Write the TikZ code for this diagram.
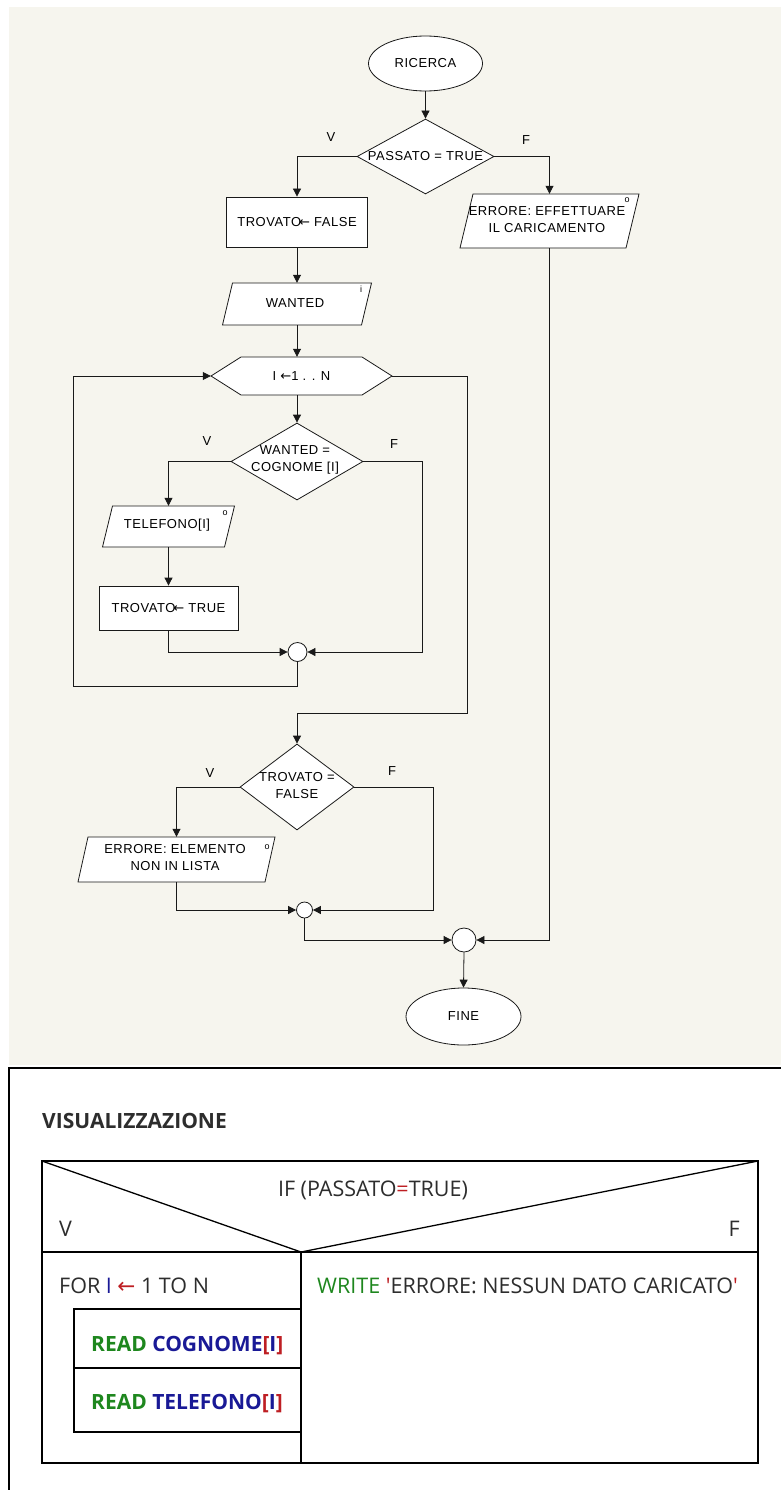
\documentclass[tikz,border=0pt]{standalone}
\usepackage{fontspec}
\setmainfont{Liberation Sans}[LetterSpace=4]
\newfontfamily\nsfont{Open Sans}
\newfontfamily\dvfont{DejaVu Sans}
\usetikzlibrary{shapes.geometric,arrows.meta}
\definecolor{bgc}{RGB}{246,245,238}
\definecolor{lnc}{RGB}{25,25,25}
\definecolor{ngreen}{RGB}{30,135,30}
\definecolor{nblue}{RGB}{25,25,150}
\definecolor{nred}{RGB}{190,30,35}
\definecolor{ntext}{RGB}{45,45,45}
\tikzset{
  fctext/.style={font=\fontsize{13}{17}\selectfont, text=black, inner sep=0pt, align=center},
  tinymk/.style={font=\fontsize{9}{9}\selectfont, text=black, inner sep=0pt},
  term/.style={ellipse, draw=lnc, fill=white, line width=0.8pt, inner sep=0pt, fctext},
  proc/.style={rectangle, draw=lnc, fill=white, line width=0.8pt, inner sep=0pt, fctext},
  iobox/.style={rectangle, draw=none, inner sep=0pt, fctext},
  dec/.style={diamond, draw=lnc, fill=white, line width=0.8pt, inner sep=0pt},
  jn/.style={circle, draw=lnc, fill=white, line width=0.8pt, inner sep=0pt},
  ln/.style={line width=0.8pt, draw=lnc},
  arr/.style={-{Triangle[length=8pt,width=8pt]}},
  nsreg/.style={font=\nsfont\fontsize{21.5}{21.5}\selectfont, text=ntext, inner sep=0pt},
  nsbold/.style={font=\nsfont\bfseries\fontsize{21}{21}\selectfont, text=ntext, inner sep=0pt},
  nsline/.style={line width=1.3pt, draw=black}
}
% parallelogram: centre x, centre y, width, height, slant
\newcommand\mypgram[5]{%
  \draw[ln, fill=white] ({#1-#3/2},{#2+#4/2}) -- ({#1-#3/2+#5},{#2-#4/2}) -- ({#1+#3/2},{#2-#4/2}) -- ({#1+#3/2-#5},{#2+#4/2}) -- cycle;}
\newcommand\fcarrow{{\dvfont\fontsize{13}{13}\selectfont ←}}
\begin{document}
\begin{tikzpicture}[x=1pt,y=-1pt]
\useasboundingbox (0,0) rectangle (781,1490);
\fill[white] (0,0) rectangle (781,1490);
\fill[bgc] (9,7) rectangle (781,1065);

% ---------- flowchart shapes ----------
\node[term, minimum width=114pt, minimum height=55pt] (ric) at (425.5,63.5) {RICERCA};

\node[dec, minimum width=137pt, minimum height=75pt] (d1) at (425.5,156.5) {};
\node[fctext] (d1t) at (d1.center) {PASSATO = TRUE};
\node[fctext] (v1) at (331,137) {V};
\node[fctext] (f1) at (526,140) {F};

\node[proc, minimum width=141pt, minimum height=50pt] (tf) at (297,222) {TROVATO\kern-2pt\fcarrow\ FALSE};

\mypgram{549.5}{221}{179}{54}{13}
\node[iobox, minimum width=179pt, minimum height=54pt] (err1) at (549.5,221) {};
\node[fctext] (err1t) at (547,219.5) {ERRORE: EFFETTUARE\\IL CARICAMENTO};
\node[tinymk] (err1m) at (627,200) {o};

\mypgram{297}{304}{149}{42}{10}
\node[iobox, minimum width=149pt, minimum height=42pt] (wanted) at (297,304) {};
\node[fctext] (wantedt) at (295,303) {WANTED};
\node[tinymk] (wantedm) at (361,289) {i};

\draw[ln, fill=white] (211,376) -- (241,357) -- (362,357) -- (392,376) -- (362,395) -- (241,395) -- cycle;
\node[fctext, minimum width=181pt, minimum height=38pt] (hex) at (301.5,376) {I \fcarrow1 . . N};

\node[dec, minimum width=132pt, minimum height=77pt] (d2) at (297,461.5) {};
\node[fctext] (d2t) at (295,459.5) {WANTED =\\COGNOME [I]};
\node[fctext] (v2) at (207,441) {V};
\node[fctext] (f2) at (394,444) {F};

\mypgram{168.5}{526.5}{132}{41}{10}
\node[iobox, minimum width=132pt, minimum height=41pt] (tel) at (168.5,526.5) {};
\node[fctext] (telt) at (167,525) {TELEFONO[I]};
\node[tinymk] (telm) at (225,513) {o};

\node[proc, minimum width=139pt, minimum height=44pt] (tt) at (168.5,608) {TROVATO\kern-2pt\fcarrow\ TRUE};

\node[jn, minimum size=19pt] (c1) at (297.5,652) {};

\node[dec, minimum width=114pt, minimum height=86pt] (d3) at (297,787) {};
\node[fctext] (d3t) at (297,785.5) {TROVATO =\\FALSE};
\node[fctext] (v3) at (210,773) {V};
\node[fctext] (f3) at (392,771) {F};

\mypgram{176.5}{859.5}{197}{45}{10}
\node[iobox, minimum width=197pt, minimum height=45pt] (err2) at (176.5,859.5) {};
\node[fctext] (err2t) at (175,857.5) {ERRORE: ELEMENTO\\NON IN LISTA};
\node[tinymk] (err2m) at (267,847) {o};

\node[jn, minimum size=16pt] (c2) at (304.5,910) {};
\node[jn, minimum size=24pt] (c3) at (464,940) {};

\node[term, minimum width=115pt, minimum height=57pt] (fine) at (463.5,1016.5) {FINE};

% ---------- connectors ----------
\coordinate (k1) at (422,652);
\coordinate (k2) at (73,686);
\coordinate (k3) at (467,713);
\coordinate (k4) at (433,910);

\draw[ln,arr] (ric.south) -- (d1.north);
\draw[ln,arr] (d1.west) -| (tf.north);
\draw[ln,arr] (d1.east) -| (err1.north);
\draw[ln,arr] (tf.south) -- (wanted.north);
\draw[ln,arr] (wanted.south) -- (wanted.south |- hex.north);
\draw[ln,arr] (d2.north |- hex.south) -- (d2.north);
\draw[ln,arr] (d2.west) -| (tel.north);
\draw[ln,arr] (tel.south) -- (tt.north);
\draw[ln,arr] (tt.south) |- (c1.west);
\draw[ln,arr] (d2.east) -| (k1) -- (c1.east);
\draw[ln,arr] (c1.south) |- (k2) |- (hex.west);
\draw[ln,arr] (hex.east) -| (k3) -| (d3.north);
\draw[ln,arr] (d3.west) -| (err2.north);
\draw[ln,arr] (err2.south) |- (c2.west);
\draw[ln,arr] (d3.east) -| (k4) -- (c2.east);
\draw[ln,arr] (c2.south) |- (c3.west);
\draw[ln,arr] (err1.south) |- (c3.east);
\draw[ln,arr] (c3.south) -- (fine.north);

% ---------- bottom frame ----------
\draw[line width=1.5pt] (9,1490) -- (9,1068) -- (781,1068);

\node[nsbold, anchor=base west] (vis) at (42,1128) {VISUALIZZAZIONE};

\draw[nsline] (42,1161) rectangle (758,1463);
\draw[nsline] (42,1252) -- (758,1252);
\draw[nsline] (42,1161) -- (301,1252) -- (758,1161);
\draw[nsline] (301,1252) -- (301,1463);
\draw[nsline] (301,1309) -- (74,1309) -- (74,1432) -- (301,1432);
\draw[nsline] (74,1368) -- (301,1368);

\node[nsreg, anchor=base] (ift) at (373,1196) {IF (PASSATO{\color{nred}=}TRUE)};
\node[nsreg, anchor=base west] (nsv) at (59,1236) {V};
\node[nsreg, anchor=base east] (nsf) at (740,1236) {F};
\node[nsreg, anchor=base west] (fort) at (59,1293) {FOR {\color{nblue}I} {\color{nred}\dvfont ←} 1 TO N};
\node[nsreg, anchor=base west] (wrt) at (317,1293) {{\color{ngreen}WRITE} {\color{nred}\textquotesingle}ERRORE: NESSUN DATO CARICATO{\color{nred}\textquotesingle}};
\node[nsbold, anchor=base west] (rc) at (91,1351) {{\color{ngreen}READ} {\color{nblue}COGNOME}{\color{nred}[}{\color{nblue}I}{\color{nred}]}};
\node[nsbold, anchor=base west] (rt) at (91,1409) {{\color{ngreen}READ} {\color{nblue}TELEFONO}{\color{nred}[}{\color{nblue}I}{\color{nred}]}};
\end{tikzpicture}
\end{document}
